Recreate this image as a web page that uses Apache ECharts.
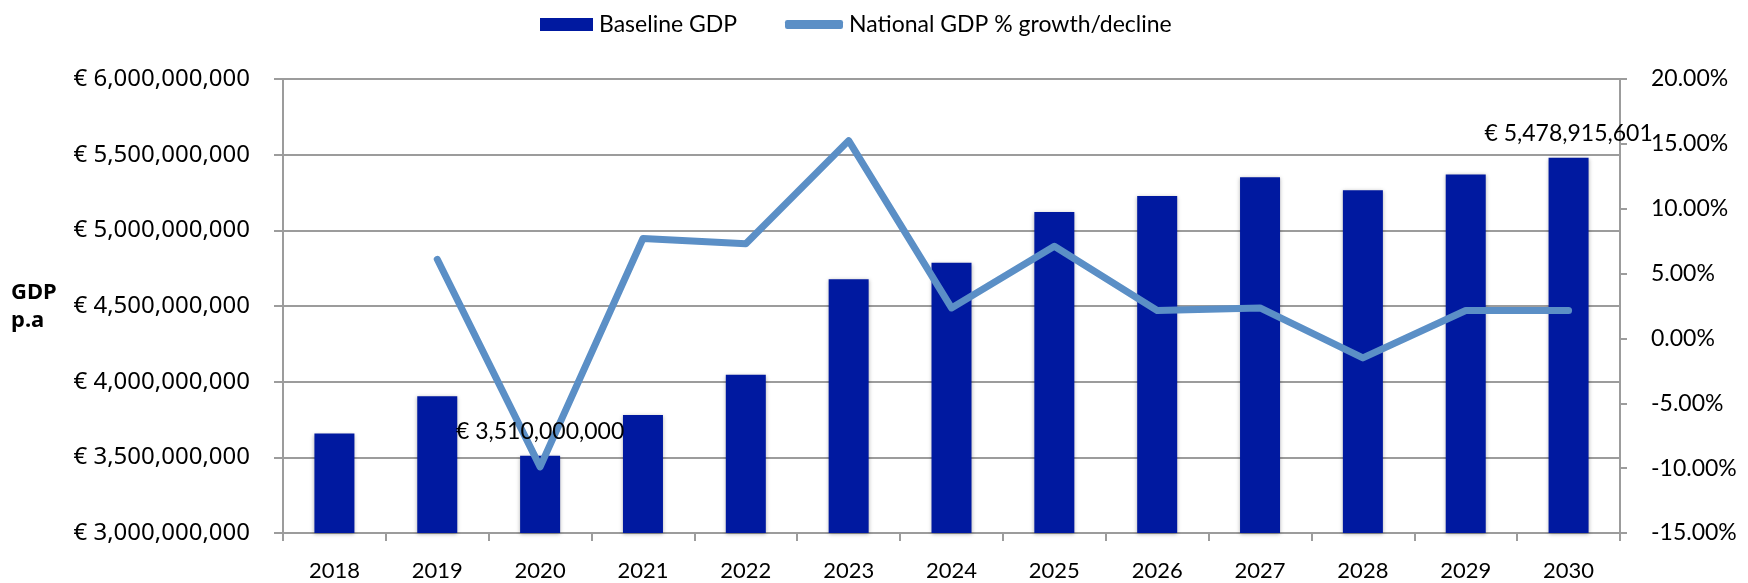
<!DOCTYPE html>
<html>
<head>
<meta charset="utf-8">
<script src="https://cdn.jsdelivr.net/npm/echarts@6/dist/echarts.min.js"></script>
<style>
  html, body { margin: 0; padding: 0; background: #fff; }
  #chart { width: 1748px; height: 583px; }
</style>
</head>
<body>
<div id="chart"></div>
<script>
// Years shown on the category axis
const years = ['2018', '2019', '2020', '2021', '2022', '2023', '2024', '2025', '2026', '2027', '2028', '2029', '2030'];

// Baseline GDP per year (EUR)
const baselineGdp = [
  3657000000, 3903000000, 3510000000, 3780000000, 4045000000, 4677000000, 4786000000,
  5121000000, 5227000000, 5350000000, 5265000000, 5369000000, 5478915601
];

// National GDP growth/decline in percent (no value for the first year)
const growthPct = [null, 6.1, -9.9, 7.7, 7.3, 15.25, 2.35, 7.1, 2.15, 2.35, -1.5, 2.15, 2.15];

// Bars whose value is written above them
const labelledYears = ['2020', '2030'];

// Axis ranges
const gdpAxis = { min: 3000000000, max: 6000000000, interval: 500000000 };
const pctAxis = { min: -15, max: 20, interval: 5 };

const barColor = '#0019a0';
const lineColor = '#5b8fc6';
const gridColor = '#9c9c9c';
const calibriLike = 'Lato, "Liberation Sans", sans-serif';
const sansFont = '"Noto Sans", "Open Sans", sans-serif';

function euro(v) {
  return '€ ' + Math.round(v).toLocaleString('en-US');
}

const chart = echarts.init(document.getElementById('chart'), null, { renderer: 'canvas' });

// Value labels sit on an invisible copy of the bars so they draw above the line
const labelData = baselineGdp.map((v, i) => ({
  value: v,
  label: { show: labelledYears.includes(years[i]) }
}));

chart.setOption({
  animation: false,
  backgroundColor: '#fff',
  grid: { left: 283, right: 128, top: 79, bottom: 50, containLabel: false },
  legend: [
    {
      data: ['Baseline GDP'],
      left: 535,
      top: 8,
      icon: 'rect',
      itemWidth: 53,
      itemHeight: 13,
      textStyle: { fontFamily: calibriLike, fontSize: 23, color: '#000', padding: [0, 0, 0, 1] }
    },
    {
      data: ['National GDP % growth/decline'],
      left: 780,
      top: 8,
      icon: 'roundRect',
      itemWidth: 58,
      itemHeight: 9,
      textStyle: { fontFamily: calibriLike, fontSize: 23, color: '#000', padding: [0, 0, 0, 1] }
    }
  ],
  xAxis: {
    type: 'category',
    data: years,
    boundaryGap: true,
    axisLine: { onZero: false, lineStyle: { color: gridColor, width: 2 } },
    axisTick: { show: true, length: 8, alignWithLabel: false, lineStyle: { color: gridColor, width: 2 } },
    axisLabel: { fontFamily: calibriLike, fontSize: 22, color: '#000', margin: 27, interval: 0 }
  },
  yAxis: [
    {
      type: 'value',
      min: gdpAxis.min,
      max: gdpAxis.max,
      interval: gdpAxis.interval,
      position: 'left',
      axisLine: { show: true, lineStyle: { color: gridColor, width: 2 } },
      axisTick: { show: true, length: 9, lineStyle: { color: gridColor, width: 2 } },
      splitLine: { show: true, lineStyle: { color: gridColor, width: 2 } },
      axisLabel: {
        formatter: (v) => euro(v),
        fontFamily: sansFont,
        fontSize: 24,
        color: '#000',
        margin: 33
      }
    },
    {
      type: 'value',
      min: pctAxis.min,
      max: pctAxis.max,
      interval: pctAxis.interval,
      position: 'right',
      axisLine: { show: true, lineStyle: { color: gridColor, width: 2 } },
      axisTick: { show: true, length: 7, lineStyle: { color: gridColor, width: 2 } },
      splitLine: { show: false },
      axisLabel: {
        formatter: (v) => v.toFixed(2) + '%',
        fontFamily: calibriLike,
        fontSize: 23,
        color: '#000',
        margin: 31
      }
    }
  ],
  graphic: [
    {
      type: 'text',
      left: 11,
      top: 279,
      style: {
        text: 'GDP\np.a',
        fontFamily: sansFont,
        fontWeight: 'bold',
        fontSize: 22,
        lineHeight: 28,
        align: 'center',
        fill: '#000'
      }
    }
  ],
  series: [
    {
      name: 'Baseline GDP',
      type: 'bar',
      yAxisIndex: 0,
      data: baselineGdp,
      barWidth: 40,
      barGap: '-100%',
      itemStyle: {
        color: barColor,
        shadowColor: 'rgba(0,0,0,0.3)',
        shadowBlur: 4,
        shadowOffsetX: 0,
        shadowOffsetY: 1
      },
      z: 2
    },
    {
      name: 'National GDP % growth/decline',
      type: 'line',
      yAxisIndex: 1,
      data: growthPct,
      showSymbol: false,
      symbol: 'none',
      lineStyle: { color: lineColor, width: 7, cap: 'round', join: 'round' },
      itemStyle: { color: lineColor },
      z: 3
    },
    {
      name: 'Baseline GDP labels',
      type: 'bar',
      yAxisIndex: 0,
      data: labelData,
      barWidth: 40,
      barGap: '-100%',
      silent: true,
      itemStyle: { color: 'rgba(0,0,0,0)' },
      label: {
        position: 'top',
        distance: 13,
        formatter: (p) => euro(p.value),
        fontFamily: calibriLike,
        fontSize: 23,
        color: '#000'
      },
      z: 5
    }
  ]
});
</script>
</body>
</html>
